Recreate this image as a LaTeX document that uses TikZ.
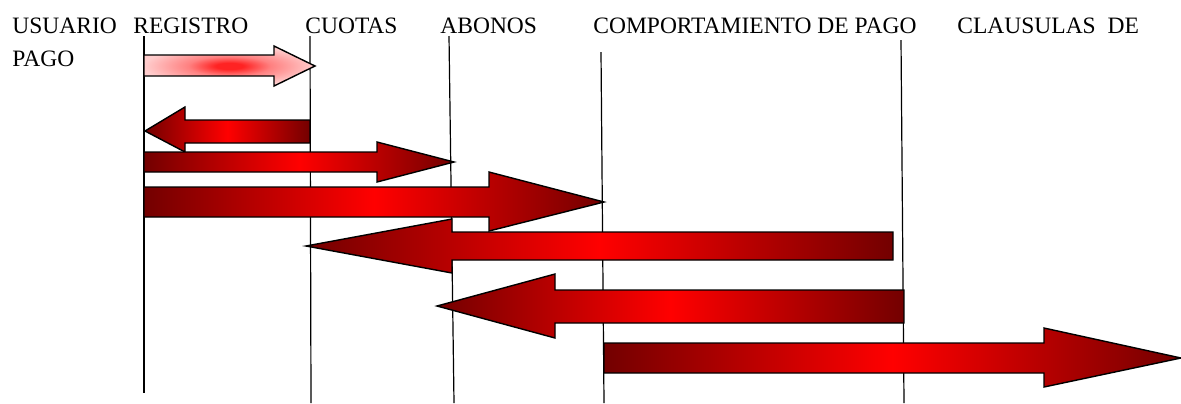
\documentclass[tikz,border=0pt]{standalone}
\usepackage{fontspec}
\setmainfont{Liberation Serif}

\definecolor{darkarrow}{RGB}{115,0,0}
\definecolor{brightarrow}{RGB}{255,0,0}
\definecolor{pinkarrow}{RGB}{255,205,205}
\definecolor{glowred}{RGB}{255,35,35}
\pgfdeclareradialshading{pinkglow}{\pgfpoint{0bp}{0bp}}{color(0bp)=(glowred); color(4bp)=(glowred); color(12bp)=(pinkarrow!55!glowred); color(25bp)=(pinkarrow); color(50bp)=(pinkarrow)}

\tikzset{
  heading/.style={anchor=base west, inner sep=0pt, font=\fontsize{11.75}{14}\selectfont},
  lifeline/.style={line width=0.6pt},
  blockarrow/.style={draw=black, line width=0.7pt, left color=darkarrow, right color=darkarrow, middle color=brightarrow},
  lightarrow/.style={draw=black, line width=0.7pt, shade, shading=pinkglow},
}

\begin{document}
\begin{tikzpicture}[x=0.5pt, y=-0.5pt]
  \useasboundingbox (0,0) rectangle (1181,403);

  % headings
  \node[heading] (usuario) at (12,33) {USUARIO};
  \node[heading] (registro) at (133,33) {REGISTRO};
  \node[heading] (cuotas) at (305,33) {CUOTAS};
  \node[heading] (abonos) at (440,33) {ABONOS};
  \node[heading] (comport) at (593,33) {COMPORTAMIENTO DE PAGO};
  \node[heading] (clausulas) at (957,33) {CLAUSULAS\ \ DE};
  \node[heading] (pago) at (12,66) {PAGO};

  % lifelines
  \coordinate (regtop) at (144,36);  \coordinate (regbot) at (144,393);
  \coordinate (cuotop) at (310,36);  \coordinate (cuobot) at (311,403);
  \coordinate (abotop) at (449,36);  \coordinate (abobot) at (454,403);
  \coordinate (comtop) at (601,52);  \coordinate (combot) at (604,403);
  \coordinate (clatop) at (901,40);  \coordinate (clabot) at (904,403);
  \foreach \line in {reg,cuo,abo,com,cla}
    \draw[lifeline] (\line top) -- (\line bot);

  % registro -> cuotas
  \path[lightarrow] (144,55) -- (274,55) -- (274,46) -- (315,66)
    -- (274,86) -- (274,76) -- (144,76) -- cycle;

  % cuotas -> registro
  \path[blockarrow] (310,120) -- (185,120) -- (185,107) -- (145,131)
    -- (185,152) -- (185,143) -- (310,143) -- cycle;

  % registro -> abonos
  \path[blockarrow] (144,152) -- (377,152) -- (377,142) -- (454,162)
    -- (377,182) -- (377,172) -- (144,172) -- cycle;

  % registro -> comportamiento
  \path[blockarrow] (144,187) -- (489,187) -- (489,172) -- (604,202)
    -- (489,231) -- (489,217) -- (144,217) -- cycle;

  % comportamiento -> cuotas
  \path[blockarrow] (893,232) -- (452,232) -- (452,219) -- (306,246)
    -- (452,273) -- (452,260) -- (893,260) -- cycle;

  % clausulas -> abonos
  \path[blockarrow] (904,290) -- (555,290) -- (555,274) -- (437,306)
    -- (555,338) -- (555,323) -- (904,323) -- cycle;

  % comportamiento -> clausulas
  \path[blockarrow] (604,343) -- (1044,343) -- (1044,328) -- (1181,358)
    -- (1044,387) -- (1044,373) -- (604,373) -- cycle;
\end{tikzpicture}
\end{document}
